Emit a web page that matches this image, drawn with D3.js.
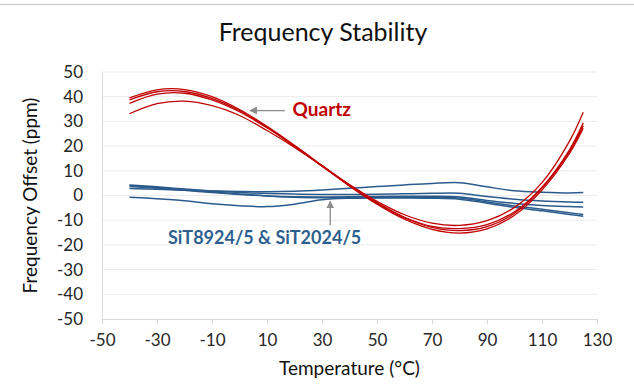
<!DOCTYPE html>
<html>
<head>
<meta charset="utf-8">
<script src="https://cdn.jsdelivr.net/npm/d3@7"></script>
<style>
  body { margin: 0; background: #fff; }
  svg { display: block; font-family: Lato, "Open Sans", sans-serif; }
</style>
</head>
<body>
<svg id="chart" width="634" height="385"></svg>
<script>
// temperature points (°C) shared by every curve
const temps = [-40, -30, -20, -10, 0, 10, 20, 30, 40, 50, 60, 70, 80, 90, 100, 110, 120, 125];

// quartz crystal curves (ppm)
const quartz1 = [39.5, 42.8, 42.9, 40.0, 34.8, 28.0, 20.3, 12.2, 4.1, -3.1, -9.0, -12.9, -14.2, -12.6, -7.2, 3.0, 17.8, 28.3];
const quartz2 = [38.7, 42.0, 42.1, 39.3, 34.3, 27.6, 20.0, 11.9, 3.8, -3.5, -9.6, -13.7, -15.2, -13.5, -8.0, 2.2, 17.0, 27.2];
const quartz3 = [37.3, 41.0, 41.4, 38.7, 33.9, 27.4, 20.0, 12.0, 4.0, -3.0, -8.8, -12.5, -13.4, -11.8, -6.6, 3.4, 18.5, 29.4];
const quartz4 = [33.1, 37.2, 38.2, 36.4, 32.4, 26.3, 19.5, 12.0, 4.4, -2.4, -7.8, -11.2, -12.1, -10.2, -4.8, 5.2, 22.0, 33.7];

// MEMS (SiT8924/5 & SiT2024/5) curves (ppm)
const mems1 = [2.8, 2.5, 2.1, 1.8, 1.6, 1.5, 1.7, 2.2, 2.9, 3.6, 4.3, 4.9, 5.2, 3.5, 1.9, 1.3, 1.0, 1.2];
const mems2 = [4.3, 3.5, 2.6, 1.8, 1.2, 0.8, 0.6, 0.4, 0.4, 0.5, 0.7, 0.9, 0.9, -0.4, -1.5, -2.2, -2.6, -2.7];
const mems3 = [3.6, 2.9, 2.1, 1.2, 0.4, -0.2, -0.5, -0.6, -0.5, -0.4, -0.3, -0.3, -0.6, -2.0, -3.2, -4.0, -4.5, -4.7];
const mems4 = [4.0, 3.2, 2.4, 1.5, 0.6, -0.2, -0.7, -0.9, -0.9, -0.8, -0.7, -0.7, -1.0, -2.6, -4.2, -5.6, -7.0, -7.7];
const mems5 = [-0.7, -1.3, -2.1, -3.3, -4.1, -4.5, -3.5, -1.7, -1.1, -1.0, -1.0, -1.1, -1.5, -3.1, -4.8, -6.2, -7.7, -8.4];

const quartzSeries = [quartz1, quartz2, quartz3, quartz4];
const memsSeries = [mems1, mems2, mems3, mems4, mems5];

const xTicks = [-50, -30, -10, 10, 30, 50, 70, 90, 110, 130];
const yTicks = [-50, -40, -30, -20, -10, 0, 10, 20, 30, 40, 50];

const svg = d3.select('#chart');
const margin = { top: 72, right: 37, bottom: 66, left: 102 };
const width = 634, height = 385;

const x = d3.scaleLinear().domain([-50, 130]).range([margin.left, width - margin.right]);
const y = d3.scaleLinear().domain([-50, 50]).range([height - margin.bottom, margin.top]);

// thin frame line across the top
svg.append('line')
  .attr('x1', 0).attr('x2', width)
  .attr('y1', 4.5).attr('y2', 4.5)
  .attr('stroke', '#d0d0d0').attr('stroke-width', 1.5);

// horizontal gridlines
svg.append('g')
  .selectAll('line')
  .data(yTicks.filter(d => d !== -50))
  .enter()
  .append('line')
  .attr('x1', x(-50)).attr('x2', x(130))
  .attr('y1', d => y(d)).attr('y2', d => y(d))
  .attr('stroke', '#ebebeb').attr('stroke-width', 1);

// plain hyphen minus like the original
const fmt = d => String(d);

// y axis
const yAxis = svg.append('g')
  .attr('transform', 'translate(' + x(-50) + ',0)')
  .call(d3.axisLeft(y).tickValues(yTicks).tickFormat(fmt).tickSize(0).tickPadding(19));
yAxis.select('.domain').attr('stroke', '#d9d9d9');
yAxis.selectAll('text').attr('font-size', 17).attr('fill', '#262626').attr('font-family', 'Lato, sans-serif');

// x axis at the bottom
const xAxis = svg.append('g')
  .attr('transform', 'translate(0,' + y(-50) + ')')
  .call(d3.axisBottom(x).tickValues(xTicks).tickFormat(fmt).tickSize(5).tickPadding(10));
xAxis.select('.domain').attr('stroke', '#d9d9d9');
xAxis.selectAll('line').attr('stroke', '#d9d9d9');
xAxis.selectAll('text').attr('font-size', 17).attr('fill', '#262626').attr('font-family', 'Lato, sans-serif');

const line = d3.line()
  .x((d, i) => x(temps[i]))
  .y(d => y(d))
  .curve(d3.curveCatmullRom.alpha(0.5));

svg.append('g')
  .selectAll('path')
  .data(memsSeries)
  .enter()
  .append('path')
  .attr('d', d => line(d))
  .attr('fill', 'none')
  .attr('stroke', '#2b5b8c')
  .attr('stroke-width', 1.5);

svg.append('g')
  .selectAll('path')
  .data(quartzSeries)
  .enter()
  .append('path')
  .attr('d', d => line(d))
  .attr('fill', 'none')
  .attr('stroke', '#c00000')
  .attr('stroke-width', 1.3);

// arrow heads
const defs = svg.append('defs');
defs.append('marker')
  .attr('id', 'arrow')
  .attr('viewBox', '0 0 10 10')
  .attr('refX', 9).attr('refY', 5)
  .attr('markerWidth', 6).attr('markerHeight', 6)
  .attr('orient', 'auto-start-reverse')
  .append('path')
  .attr('d', 'M0,0 L10,5 L0,10 z')
  .attr('fill', '#8c8c8c');

// quartz annotation
svg.append('line')
  .attr('x1', x(16.5)).attr('y1', y(34.4))
  .attr('x2', x(3.8)).attr('y2', y(34.4))
  .attr('stroke', '#8c8c8c').attr('stroke-width', 1.3)
  .attr('marker-end', 'url(#arrow)');
svg.append('text')
  .attr('x', x(19.3)).attr('y', y(32))
  .attr('font-size', 19).attr('font-weight', 'bold')
  .attr('fill', '#c00000')
  .text('Quartz');

// MEMS annotation
svg.append('line')
  .attr('x1', x(33)).attr('y1', y(-12))
  .attr('x2', x(33)).attr('y2', y(-2.3))
  .attr('stroke', '#8c8c8c').attr('stroke-width', 1.3)
  .attr('marker-end', 'url(#arrow)');
svg.append('text')
  .attr('x', x(-26)).attr('y', y(-19.6))
  .attr('font-size', 18).attr('font-weight', 'bold')
  .attr('fill', '#2e5f8e')
  .text('SiT8924/5 & SiT2024/5');

// titles
svg.append('text')
  .attr('x', 323).attr('y', 41)
  .attr('text-anchor', 'middle')
  .attr('font-size', 25).attr('fill', '#111')
  .text('Frequency Stability');

svg.append('text')
  .attr('x', (x(-50) + x(130)) / 2).attr('y', 375)
  .attr('text-anchor', 'middle')
  .attr('font-size', 19).attr('fill', '#111')
  .text('Temperature (°C)');

svg.append('text')
  .attr('transform', 'translate(37,' + y(0) + ') rotate(-90)')
  .attr('text-anchor', 'middle')
  .attr('font-size', 19).attr('fill', '#111')
  .text('Frequency Offset (ppm)');
</script>
</body>
</html>
